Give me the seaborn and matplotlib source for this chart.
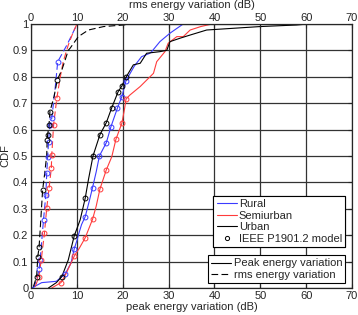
import pandas as pd
import seaborn as sns
import matplotlib.pyplot as plt
from matplotlib.lines import Line2D

# peak energy variation (solid)
peak_rural_x = [0.2, 2.3, 5.5, 6.5, 7.4, 8.7, 9.4, 10.0, 10.3, 11.0, 11.8, 12.7, 13.4, 14.2, 14.9, 16.4, 17.4,
                18.8, 19.8, 20.7, 22.5, 24.1, 25.9, 26.3, 28.1, 30.3, 33.2]
peak_rural_y = [0.0, 0.02, 0.025, 0.04, 0.052, 0.094, 0.148, 0.18, 0.2, 0.24, 0.27, 0.33, 0.38, 0.44, 0.5, 0.55,
                0.61, 0.68, 0.725, 0.785, 0.84, 0.876, 0.889, 0.895, 0.933, 0.965, 1.0]
peak_semi_x = [4.5, 6.5, 7.5, 9.4, 10.5, 11.8, 13.4, 14.2, 15.0, 16.4, 17.6, 18.5, 19.8, 20.4, 20.7, 21.5, 23.8,
               26.7, 27.4, 29.2, 29.9, 31.8, 33.2, 34.7, 37.0, 39.5]
peak_semi_y = [0.0, 0.02, 0.05, 0.12, 0.15, 0.19, 0.26, 0.31, 0.374, 0.447, 0.497, 0.563, 0.624, 0.68, 0.715, 0.73,
               0.763, 0.813, 0.857, 0.895, 0.927, 0.952, 0.952, 0.977, 0.99, 1.0]
peak_urban_x = [3.8, 5.5, 6.7, 8.1, 9.4, 10.7, 11.8, 12.5, 13.5, 15.0, 16.4, 17.6, 19.0, 19.8, 20.7, 22.3, 23.8,
                25.2, 28.1, 29.6, 30.3, 32.5, 34.7, 38.3, 49.9, 57.9, 60.5]
peak_urban_y = [0.0, 0.02, 0.043, 0.106, 0.197, 0.258, 0.34, 0.41, 0.5, 0.58, 0.626, 0.683, 0.744, 0.765, 0.798,
                0.845, 0.851, 0.889, 0.895, 0.9, 0.933, 0.946, 0.958, 0.977, 0.99, 0.996, 1.0]

# rms energy variation (dashed)
rms_rural_x = [0.5, 1.2, 1.74, 1.96, 2.7, 3.2, 3.4, 3.6, 3.8, 4.1, 4.5, 5.2, 5.8, 7.8, 9.6, 10.0]
rms_rural_y = [0.0, 0.03, 0.07, 0.106, 0.258, 0.352, 0.434, 0.497, 0.554, 0.617, 0.643, 0.75, 0.857, 0.92, 0.984, 1.0]
rms_semi_x = [0.9, 1.7, 2.2, 2.9, 3.4, 3.9, 4.4, 4.5, 4.9, 5.6, 6.3, 7.0, 8.1, 9.2, 10.0]
rms_semi_y = [0.005, 0.043, 0.106, 0.207, 0.302, 0.377, 0.453, 0.504, 0.617, 0.718, 0.794, 0.857, 0.92, 0.97, 1.0]
rms_urban_x = [0.5, 1.2, 1.45, 1.74, 2.5, 3.0, 3.4, 3.5, 3.6, 3.9, 4.1, 5.0, 5.7, 6.7, 7.3, 8.1, 8.5, 10.3,
               12.5, 15.8, 20.1, 22.0]
rms_urban_y = [0.005, 0.043, 0.118, 0.156, 0.37, 0.44, 0.504, 0.56, 0.58, 0.617, 0.668, 0.725, 0.788, 0.826,
               0.857, 0.9, 0.908, 0.952, 0.977, 0.99, 0.996, 1.0]

# IEEE P1901.2 model points
model_rural_x = [7.4, 9.4, 11.8, 13.4, 14.9, 16.4, 17.4, 18.8, 19.8, 20.7,
                 1.74, 1.96, 2.7, 3.2, 3.4, 3.6, 3.8, 4.1, 4.5, 5.8]
model_rural_y = [0.052, 0.148, 0.27, 0.38, 0.5, 0.55, 0.61, 0.68, 0.725, 0.785,
                 0.07, 0.106, 0.258, 0.352, 0.434, 0.497, 0.554, 0.617, 0.643, 0.857]
model_semi_x = [6.5, 9.4, 11.8, 13.4, 15.0, 16.4, 18.5, 19.8, 20.7,
                1.7, 2.2, 2.9, 3.4, 3.9, 4.4, 4.5, 4.9, 5.6]
model_semi_y = [0.02, 0.12, 0.19, 0.26, 0.374, 0.447, 0.563, 0.624, 0.715,
                0.043, 0.106, 0.207, 0.302, 0.377, 0.453, 0.504, 0.617, 0.718]
model_urban_x = [6.7, 9.4, 11.8, 13.5, 15.0, 16.4, 17.6, 19.0, 19.8, 20.7,
                 1.2, 1.45, 1.74, 2.5, 3.4, 3.6, 3.9, 4.1, 5.7]
model_urban_y = [0.043, 0.197, 0.34, 0.5, 0.58, 0.626, 0.683, 0.744, 0.765, 0.798,
                 0.043, 0.118, 0.156, 0.37, 0.56, 0.58, 0.617, 0.668, 0.788]

areas = ['Rural', 'Semiurban', 'Urban']
palette = {'Rural': '#3b3bff', 'Semiurban': '#ff3b3b', 'Urban': 'black'}

curves = {
    ('Rural', 'peak'): (peak_rural_x, peak_rural_y),
    ('Semiurban', 'peak'): (peak_semi_x, peak_semi_y),
    ('Urban', 'peak'): (peak_urban_x, peak_urban_y),
    ('Rural', 'rms'): (rms_rural_x, rms_rural_y),
    ('Semiurban', 'rms'): (rms_semi_x, rms_semi_y),
    ('Urban', 'rms'): (rms_urban_x, rms_urban_y),
}
rows = []
for (area, kind), (xs, ys) in curves.items():
    for x, y in zip(xs, ys):
        rows.append({'x': x, 'cdf': y, 'area': area, 'kind': kind})
df = pd.DataFrame(rows)

models = {'Rural': (model_rural_x, model_rural_y),
          'Semiurban': (model_semi_x, model_semi_y),
          'Urban': (model_urban_x, model_urban_y)}

sns.set_style('white')
plt.rcParams['font.family'] = ['Liberation Sans', 'DejaVu Sans']
plt.rcParams['font.size'] = 8

fig = plt.figure(figsize=(3.58, 3.15), dpi=100)
ax = fig.add_axes([0.087, 0.086, 0.896, 0.838])

sns.lineplot(data=df, x='x', y='cdf', hue='area', style='kind', palette=palette,
             dashes={'peak': '', 'rms': (6, 3)}, estimator=None, sort=False,
             linewidth=0.8, legend=False, ax=ax)

for area in areas:
    mx, my = models[area]
    ax.plot(mx, my, 'o', ms=3.5, mfc='none', mec=palette[area], mew=0.7)

ax.set_xlim(0, 70)
ax.set_ylim(0, 1)
ax.set_xticks(range(0, 71, 10))
ax.set_yticks([i / 10 for i in range(11)])
ax.set_yticklabels(['0'] + ['%.1f' % (i / 10) for i in range(1, 10)] + ['1'])
ax.grid(True, color='#333333', linewidth=0.9)
ax.set_xlabel('peak energy variation (dB)', labelpad=1)
ax.set_ylabel('CDF', labelpad=2)
ax.tick_params(direction='in', length=3, pad=2, right=True, top=False)
for s in ax.spines.values():
    s.set_color('black')
    s.set_linewidth(0.8)

top = ax.twiny()
top.set_xlim(0, 70)
top.set_xticks(range(0, 71, 10))
top.tick_params(direction='in', length=3, pad=1)
top.set_xlabel('rms energy variation (dB)', labelpad=3)

h1 = [Line2D([], [], color=palette[a], lw=0.8) for a in areas]
h1.append(Line2D([], [], color='black', marker='o', ms=3, mfc='none', lw=0, mew=0.7))
leg1 = ax.legend(h1, areas + ['IEEE P1901.2 model'], loc='lower right', bbox_to_anchor=(0.98, 0.154),
                 fancybox=False, edgecolor='black', framealpha=1, handlelength=1.8, handletextpad=0.2,
                 labelspacing=0.15, borderpad=0.3, borderaxespad=0, fontsize=8)
leg1.get_frame().set_linewidth(0.8)
ax.add_artist(leg1)

h2 = [Line2D([], [], color='black', lw=0.8), Line2D([], [], color='black', lw=0.8, ls=(0, (6, 3)))]
leg2 = top.legend(h2, ['Peak energy variation', 'rms energy variation'], loc='lower right',
                  bbox_to_anchor=(0.98, 0.017), fancybox=False, edgecolor='black', framealpha=1,
                  handlelength=1.8, handletextpad=0.2, labelspacing=0.15, borderpad=0.3,
                  borderaxespad=0, fontsize=8)
leg2.get_frame().set_linewidth(0.8)

plt.savefig('out.png', dpi=100)
